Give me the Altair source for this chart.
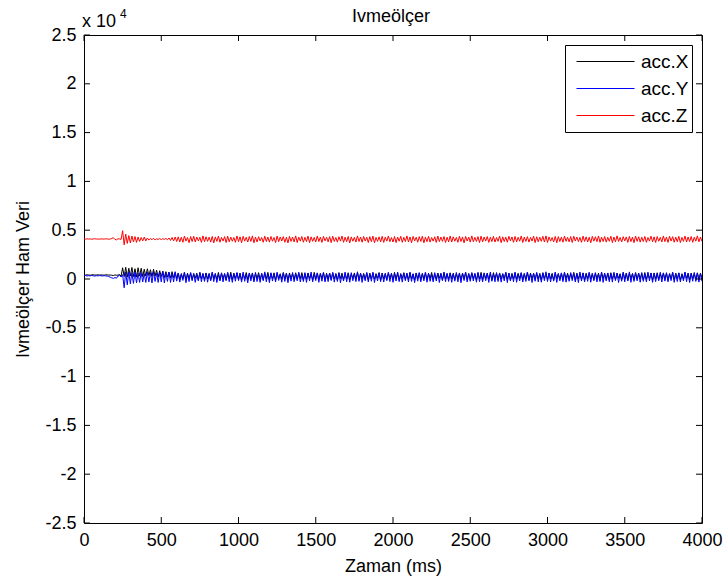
import altair as alt
import pandas as pd

# Samples every 10 ms, values in raw units (axis shown in units of 10^4)
step_ms = 10

acc_x = [
    420,400,430,410,390,420,440,400,410,430,400,420,410,390,430,420,400,410,380,350,
    420,380,400,450,300,1150,250,1200,200,1100,300,1180,250,1050,200,1150,300,1100,250,1000,
    300,1050,350,950,250,1000,300,900,200,850,250,800,150,750,200,700,100,750,150,650,
    50,620,-80,560,20,680,-120,590,0,640,-50,520,80,600,-100,650,30,570,-70,610,
    10,580,-110,640,60,530,-40,670,-90,600,40,550,-130,620,0,690,-60,560,70,630,
    -20,600,-100,540,50,660,-80,590,10,620,-140,570,40,650,-30,530,-90,610,20,680,
    -70,560,30,630,-120,600,60,540,-40,670,0,590,-100,620,50,550,-60,640,-10,600,
    40,650,-90,570,-30,620,70,530,-110,680,10,600,-60,560,30,640,-130,590,0,610,
    -50,630,20,550,-100,660,50,600,-80,570,0,640,-120,530,60,620,-40,680,-90,590,
    30,570,-60,640,-110,590,40,620,-20,550,80,660,-100,600,10,580,-70,630,50,540,
    -90,680,0,600,-130,560,60,630,-40,590,-80,650,20,540,-110,620,40,600,-60,570,
    10,640,-100,580,50,670,-70,550,-20,610,70,590,-120,640,0,560,-50,630,30,600,
    -80,550,40,620,-110,590,20,660,-60,570,-30,640,60,530,-100,610,10,680,-70,580,
    50,610,-40,560,-120,650,30,590,-90,620,0,540,70,670,-50,600,-110,570,20,630,
    -30,590,60,640,-80,550,-10,680,-130,600,40,570,-60,620,10,560,-100,650,50,590,
    -70,620,0,580,-110,660,40,540,-30,610,-90,640,60,590,-50,570,20,680,-120,600,
    30,560,-60,630,-100,590,50,650,-20,550,-80,620,10,600,-130,670,40,580,-40,610,
    -100,640,20,570,-50,610,70,540,-90,680,0,590,-120,620,30,560,-60,650,-10,600,
    40,580,-80,660,-30,550,60,620,-110,590,10,640,-70,570,50,630,-40,600,-130,560,
    0,670,-60,590,30,620,-100,540,-20,650,70,580,-90,610,20,560,-50,640,10,600,
    50,
]

acc_y = [
    330,350,310,340,320,360,330,300,340,320,350,330,310,340,320,300,250,180,120,60,
    150,80,300,380,200,450,-900,700,-600,750,-500,650,-450,700,-400,600,-350,650,-300,550,
    -350,700,-300,650,-400,750,-250,600,-350,700,-300,800,-400,650,-250,700,-350,600,-300,750,
    -220,610,-310,480,-150,700,-380,560,-260,650,-180,590,-340,450,-200,680,-290,530,-250,620,
    -330,500,-190,720,-270,580,-360,470,-210,640,-300,550,-160,690,-280,510,-350,600,-230,660,
    -170,540,-320,710,-240,490,-390,620,-200,570,-310,680,-260,460,-340,600,-180,730,-290,520,
    -370,640,-210,560,-300,700,-150,480,-330,620,-250,590,-380,510,-220,670,-280,550,-190,700,
    -310,470,-260,650,-350,580,-200,720,-290,500,-170,630,-340,560,-230,690,-300,490,-270,610,
    -160,680,-320,540,-250,600,-380,470,-210,710,-290,570,-330,650,-180,520,-270,740,-240,590,
    -350,500,-190,660,-300,560,-230,700,-360,480,-200,620,-280,590,-310,530,-170,680,-260,610,
    -340,550,-210,720,-270,490,-320,640,-180,570,-300,690,-250,510,-370,600,-220,660,-290,540,
    -190,700,-330,580,-240,460,-300,650,-210,590,-360,530,-170,720,-280,560,-250,620,-340,490,
    -220,670,-290,550,-380,610,-160,700,-310,520,-240,640,-200,580,-330,690,-270,470,-300,630,
    -180,560,-350,720,-230,500,-290,660,-260,590,-320,540,-190,680,-370,610,-210,520,-280,700,
    -340,490,-200,640,-310,570,-250,710,-170,530,-360,600,-230,680,-290,550,-330,620,-180,740,
    -260,580,-300,510,-220,690,-350,560,-190,630,-280,700,-320,480,-240,660,-170,590,-310,540,
    -370,720,-210,600,-290,530,-240,680,-330,570,-180,650,-300,500,-260,710,-350,560,-200,620,
    -280,540,-320,690,-170,580,-360,510,-230,670,-290,600,-210,730,-340,550,-250,640,-190,580,
    -330,660,-240,500,-300,710,-200,570,-350,620,-270,540,-180,690,-310,600,-220,650,-290,530,
    -170,700,-340,560,-260,630,-310,490,-200,720,-280,580,-360,540,-230,670,-250,610,-320,560,
    -240,
]

acc_z = [
    4100,4080,4120,4090,4110,4070,4100,4130,4090,4100,4080,4110,4100,4090,4120,4100,4080,4100,4150,4230,
    4060,4010,4120,4100,4060,4950,3500,4600,3650,4450,3700,4400,3800,4350,3750,4300,3850,4250,3900,4300,
    3900,4200,4000,4150,4020,4180,4000,4120,4050,4150,4030,4140,4050,4160,4020,4200,3950,4250,3900,4300,
    3850,4320,3800,4280,3760,4400,3880,4250,3720,4350,3840,4380,3790,4300,3900,4270,3750,4420,3820,4330,
    3860,4290,3780,4360,3700,4310,3850,4400,3770,4260,3890,4340,3740,4380,3810,4300,3870,4250,3760,4410,
    3830,4320,3720,4370,3880,4280,3790,4350,3850,4420,3710,4290,3800,4330,3900,4260,3760,4390,3840,4300,
    3780,4360,3870,4250,3730,4400,3820,4310,3890,4340,3760,4280,3700,4370,3850,4300,3800,4420,3740,4290,
    3880,4350,3770,4270,3830,4390,3720,4320,3860,4260,3790,4410,3840,4300,3750,4360,3900,4280,3810,4340,
    3730,4380,3850,4250,3780,4330,3880,4400,3760,4290,3820,4350,3700,4310,3870,4270,3790,4420,3840,4300,
    3770,4360,3890,4280,3740,4340,3830,4390,3710,4260,3860,4320,3800,4370,3750,4290,3880,4410,3820,4250,
    3790,4350,3730,4300,3870,4380,3760,4270,3840,4420,3800,4310,3720,4360,3890,4280,3770,4340,3850,4390,
    3710,4290,3820,4370,3780,4250,3880,4330,3750,4400,3830,4300,3860,4350,3740,4280,3810,4410,3790,4320,
    3870,4260,3760,4380,3840,4310,3700,4360,3890,4290,3780,4420,3820,4270,3850,4340,3730,4390,3800,4300,
    3880,4350,3750,4280,3830,4370,3790,4250,3860,4400,3720,4320,3840,4290,3770,4380,3900,4310,3760,4360,
    3810,4270,3870,4410,3740,4300,3850,4340,3780,4260,3890,4390,3730,4330,3820,4280,3860,4370,3790,4420,
    3750,4310,3880,4250,3800,4360,3720,4340,3840,4290,3770,4400,3860,4270,3810,4350,3740,4380,3890,4300,
    3830,4260,3760,4390,3850,4320,3790,4280,3710,4370,3880,4330,3820,4410,3760,4290,3840,4350,3780,4270,
    3870,4380,3730,4300,3810,4420,3850,4260,3790,4340,3900,4310,3750,4370,3830,4290,3720,4400,3860,4330,
    3780,4280,3840,4360,3760,4250,3880,4390,3810,4320,3740,4350,3870,4270,3800,4410,3830,4300,3750,4380,
    3890,4340,3770,4290,3820,4370,3730,4260,3860,4400,3790,4310,3840,4350,3760,4280,3880,4420,3810,4300,
    3850,
]

series_names = ["acc.X", "acc.Y", "acc.Z"]
series_colors = ["#000000", "#0000ff", "#ff0000"]
x_ticks = [0, 500, 1000, 1500, 2000, 2500, 3000, 3500, 4000]
y_ticks = [-25000, -20000, -15000, -10000, -5000, 0, 5000, 10000, 15000, 20000, 25000]
title_text = "Ivmeölçer"

rows = []
for order, (name, vals) in enumerate(zip(series_names, [acc_x, acc_y, acc_z])):
    for i, v in enumerate(vals):
        rows.append({"t": i * step_ms, "v": v, "series": name, "ord": order})
df = pd.DataFrame(rows)

W, H = 618, 488
FONT = "Liberation Sans"
FS = 18

xscale = alt.Scale(domain=[0, 4000], nice=False, zero=False)
yscale = alt.Scale(domain=[-25000, 25000], nice=False, zero=False)

lines = alt.Chart(df).mark_line(strokeWidth=1, clip=True).encode(
    x=alt.X("t:Q", scale=xscale,
            axis=alt.Axis(values=x_ticks, ticks=False, domain=False, grid=False,
                          format="d", labelFlush=False, labelOverlap=False,
                          labelFontSize=FS, labelPadding=8, labelColor="black",
                          title="Zaman (ms)", titleFontSize=FS, titleFontWeight="normal",
                          titleColor="black", titleBaseline="alphabetic", titleY=48)),
    y=alt.Y("v:Q", scale=yscale,
            axis=alt.Axis(values=y_ticks, ticks=False, domain=False, grid=False,
                          labelExpr="datum.value / 10000", labelFontSize=FS,
                          labelFlush=False, labelOverlap=False,
                          labelPadding=8, labelColor="black",
                          title="Ivmeölçer Ham Veri", titleFontSize=FS,
                          titleFontWeight="normal", titleColor="black",
                          titleBaseline="alphabetic", titleX=-56, titleY=244,
                          titleAlign="center", titleAngle=270)),
    color=alt.Color("series:N",
                    scale=alt.Scale(domain=series_names, range=series_colors),
                    legend=alt.Legend(title=None, orient="top-right", offset=10,
                                      strokeColor="black", fillColor="white",
                                      padding=3, symbolType="stroke", symbolSize=3364,
                                      symbolStrokeWidth=1, clipHeight=27, rowPadding=-0.5,
                                      symbolOffset=8, labelExpr="datum.label + ' '",
                                      labelFontSize=19, labelFont=FONT, labelOffset=6,
                                      labelColor="black", cornerRadius=0)),
    order=alt.Order("ord:Q"),
)

xt = pd.DataFrame({"v": x_ticks})
yt = pd.DataFrame({"v": y_ticks})
TL = 6
tick_bottom = alt.Chart(xt).mark_rule(color="black", strokeWidth=1).encode(
    x=alt.X("v:Q", scale=xscale), y=alt.value(H - TL), y2=alt.value(H))
tick_top = alt.Chart(xt).mark_rule(color="black", strokeWidth=1).encode(
    x=alt.X("v:Q", scale=xscale), y=alt.value(0), y2=alt.value(TL))
tick_left = alt.Chart(yt).mark_rule(color="black", strokeWidth=1).encode(
    y=alt.Y("v:Q", scale=yscale), x=alt.value(0), x2=alt.value(TL))
tick_right = alt.Chart(yt).mark_rule(color="black", strokeWidth=1).encode(
    y=alt.Y("v:Q", scale=yscale), x=alt.value(W - TL), x2=alt.value(W))

one = pd.DataFrame({"a": [0]})
exp_base = alt.Chart(one).mark_text(
    align="left", baseline="alphabetic", fontSize=FS, font=FONT, color="black"
).encode(x=alt.value(-2), y=alt.value(-8), text=alt.value("x 10"))
exp_pow = alt.Chart(one).mark_text(
    align="left", baseline="alphabetic", fontSize=12, font=FONT, color="black"
).encode(x=alt.value(36), y=alt.value(-17), text=alt.value("4"))
title_mark = alt.Chart(one).mark_text(
    align="center", baseline="alphabetic", fontSize=FS, font=FONT, color="black"
).encode(x=alt.value(W / 2 - 2), y=alt.value(-13), text=alt.value(title_text))

chart = alt.layer(lines, tick_bottom, tick_top, tick_left, tick_right,
                  exp_base, exp_pow, title_mark).properties(
    width=W, height=H,
    padding={"left": 84, "top": 35, "right": 24, "bottom": 59},
    autosize=alt.AutoSizeParams(type="none"),
).configure(font=FONT, background="white").configure_view(
    stroke="black", strokeWidth=1
).configure_axis(labelFont=FONT, titleFont=FONT)

chart.save("out.html", embed_options={"renderer": "svg", "actions": False})
